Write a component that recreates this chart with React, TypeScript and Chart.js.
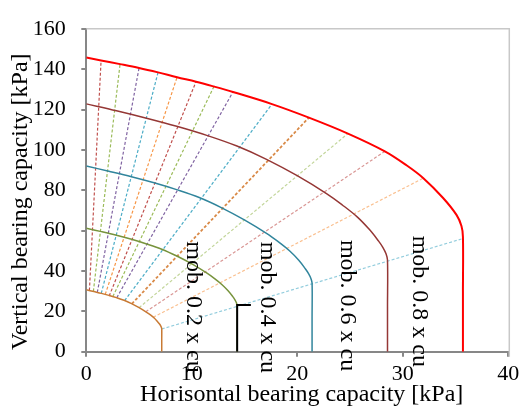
import { useEffect, useRef } from 'react';
import { Chart, registerables } from 'chart.js';

Chart.register(...registerables);

// ---- tick labels ----
const xTickValues = [0, 10, 20, 30, 40];
const yTickValues = [0, 20, 40, 60, 80, 100, 120, 140, 160];

const xTitle = 'Horisontal bearing capacity [kPa]';
const yTitle = 'Vertical bearing capacity [kPa]';

// ---- envelopes (H, V) ----
const fullH = [0, 1.4, 3.2, 5.0, 6.8, 8.6, 10.4, 12.1, 13.9, 17.6, 21.1, 24.8, 28.3, 30.35, 31.95, 33.8, 35.09, 35.56, 35.7, 35.7, 35.7];
const fullV = [145.8, 144.3, 142.5, 140.6, 138.4, 136.0, 133.8, 131.4, 128.7, 122.7, 116.0, 108.1, 99.3, 92.4, 86.0, 76.3, 67.8, 62.3, 56.9, 30, 0];

const mob08H = [0, 2.86, 5.71, 8.57, 11.42, 14.28, 17.13, 19.99, 22.84, 24.27, 25.7, 26.84, 27.69, 28.12, 28.41, 28.55, 28.55, 28.55];
const mob08V = [122.8, 119.4, 115.7, 111.7, 107.2, 101.9, 95.2, 87.2, 78.1, 72.7, 66.7, 60.5, 54.9, 51.6, 48.5, 45.4, 22, 0];

const mob06H = [0, 2.14, 4.28, 6.42, 8.56, 10.7, 12.84, 14.98, 17.12, 18.19, 19.26, 20.12, 20.76, 21.08, 21.29, 21.4, 21.4, 21.4];
const mob06V = [92.0, 89.4, 86.7, 83.7, 80.3, 76.4, 71.3, 65.3, 58.5, 54.5, 50.0, 45.4, 41.1, 38.6, 36.3, 34.0, 17, 0];

const mob04H = [0, 1.43, 2.86, 4.29, 5.72, 7.15, 8.58, 10.01, 11.44, 12.16, 12.87, 13.44, 13.87, 14.09, 14.23, 14.3, 14.3, 14.3];
const mob04V = [61.2, 59.5, 57.7, 55.7, 53.4, 50.8, 47.4, 43.5, 38.9, 36.2, 33.2, 30.2, 27.4, 25.7, 24.2, 22.6, 11, 0];

const mob02H = [0, 0.715, 1.43, 2.145, 2.86, 3.575, 4.29, 5.005, 5.72, 6.08, 6.435, 6.72, 6.94, 7.04, 7.11, 7.15, 7.15, 7.15];
const mob02V = [30.7, 29.8, 28.9, 27.9, 26.8, 25.5, 23.8, 21.8, 19.5, 18.2, 16.7, 15.1, 13.7, 12.9, 12.1, 11.4, 6, 0];

// ---- load paths (from mob 0.2 envelope to full envelope) ----
const rayStartH = [0.295, 0.671, 1.046, 1.421, 1.797, 2.168, 2.518, 2.889, 3.634, 4.316, 5.003, 5.639, 6.341, 7.15];
const rayStartV = [30.35, 29.89, 29.41, 28.93, 28.42, 27.59, 27.34, 26.75, 25.34, 23.72, 21.8, 19.78, 17.07, 11.23];
const rayEndH = [1.4, 3.2, 5.0, 6.8, 8.6, 10.4, 12.1, 13.9, 17.6, 21.1, 24.8, 28.3, 31.95, 35.65];
const rayEndV = [144.3, 142.5, 140.6, 138.4, 136.0, 133.8, 131.4, 128.7, 122.7, 116.0, 108.1, 99.3, 86.0, 56.0];

// ---- marker ----
const markerH = [14.3, 14.3, 15.6];
const markerV = [0, 23.1, 23.1];

// ---- annotations ----
const mobLabels = ['mob. 0.2 x cu', 'mob. 0.4 x cu', 'mob. 0.6 x cu', 'mob. 0.8 x cu'];
const mobLabelAnchorH = [10.1, 17.2, 24.7, 31.6];
const mobLabelAnchorV = [54.7, 54.5, 55.4, 57.5];

// ---- styles ----
const rayColors = ['#C0504D', '#9BBB59', '#8064A2', '#4BACC6', '#F79646', '#C0504D', '#9BBB59', '#8064A2', '#4BACC6', '#D98A48', '#C3D69B', '#D99694', '#FAC090', '#93CDDD'];
const rayWidths = [1.2, 1.2, 1.2, 1.2, 1.2, 1.2, 1.2, 1.2, 1.2, 1.8, 1.2, 1.2, 1.2, 1.2];

const pts = (xs: number[], ys: number[]) => xs.map((x, i) => ({ x, y: ys[i] }));

const FONT = "'Liberation Serif', 'Times New Roman', serif";

export default function App() {
  const ref = useRef<HTMLCanvasElement | null>(null);

  useEffect(() => {
    if (!ref.current) return;

    const solid = (xs: number[], ys: number[], color: string, width: number, tension = 0.35) => ({
      data: pts(xs, ys),
      borderColor: color,
      backgroundColor: color,
      borderWidth: width,
      showLine: true,
      pointRadius: 0,
      tension,
      fill: false,
    });

    const rays = rayStartH.map((_, i) => ({
      data: pts([rayStartH[i], rayEndH[i]], [rayStartV[i], rayEndV[i]]),
      borderColor: rayColors[i],
      backgroundColor: rayColors[i],
      borderWidth: rayWidths[i],
      borderDash: [3, 2],
      showLine: true,
      pointRadius: 0,
      tension: 0,
      fill: false,
    }));

    const decor = {
      id: 'decor',
      beforeDatasetsDraw(chart: any) {
        const { ctx, chartArea } = chart;
        ctx.save();
        ctx.strokeStyle = '#C8C8C8';
        ctx.lineWidth = 1.5;
        ctx.beginPath();
        ctx.moveTo(chartArea.left, chartArea.top);
        ctx.lineTo(chartArea.right + 1, chartArea.top);
        ctx.lineTo(chartArea.right + 1, chartArea.bottom + 5);
        ctx.stroke();
        ctx.restore();
      },
      afterDatasetsDraw(chart: any) {
        const { ctx, scales } = chart;
        ctx.save();
        ctx.fillStyle = '#000';
        ctx.font = `24px ${FONT}`;
        mobLabels.forEach((t, i) => {
          const px = scales.x.getPixelForValue(mobLabelAnchorH[i]);
          const py = scales.y.getPixelForValue(mobLabelAnchorV[i]);
          ctx.save();
          ctx.translate(px, py);
          ctx.rotate(Math.PI / 2);
          ctx.textAlign = 'left';
          ctx.textBaseline = 'middle';
          ctx.fillText(t, 0, 0);
          ctx.restore();
        });
        // axis titles
        ctx.textAlign = 'center';
        ctx.textBaseline = 'middle';
        ctx.fillText(xTitle, 301.7, 395);
        ctx.save();
        ctx.translate(20.5, 201.7);
        ctx.rotate(-Math.PI / 2);
        ctx.fillText(yTitle, 0, 0);
        ctx.restore();
        ctx.restore();
      },
    };

    const chart = new Chart(ref.current, {
      type: 'scatter',
      data: {
        datasets: [
          solid(markerH, markerV, '#000000', 2, 0),
          solid(fullH, fullV, '#FF0000', 2),
          solid(mob08H, mob08V, '#953735', 1.5),
          solid(mob06H, mob06V, '#31859C', 1.5),
          solid(mob04H, mob04V, '#77933C', 1.5),
          solid(mob02H, mob02V, '#C87A34', 1.5),
          ...rays,
        ] as any,
      },
      options: {
        animation: false,
        responsive: false,
        devicePixelRatio: 1,
        layout: { padding: { left: 0, right: 15.7, top: 16, bottom: 0 } },
        plugins: { legend: { display: false }, tooltip: { enabled: false }, title: { display: false } },
        scales: {
          x: {
            type: 'linear',
            min: 0,
            max: 40,
            afterBuildTicks: (s: any) => { s.ticks = xTickValues.map((v) => ({ value: v })); },
            afterFit: (s: any) => { s.height = 59.3; },
            ticks: { color: '#000', font: { family: FONT, size: 22 }, padding: 4, maxRotation: 0 },
            grid: { drawOnChartArea: false, drawTicks: true, tickLength: 5, color: '#878787', lineWidth: 2 },
            border: { display: true, color: '#878787', width: 2 },
          },
          y: {
            type: 'linear',
            min: 0,
            max: 160,
            afterBuildTicks: (s: any) => { s.ticks = yTickValues.map((v) => ({ value: v })); },
            afterFit: (s: any) => { s.width = 86.3; },
            ticks: { color: '#000', font: { family: FONT, size: 22 }, padding: 15.6 },
            grid: { drawOnChartArea: false, drawTicks: true, tickLength: 5, color: '#878787', lineWidth: 2 },
            border: { display: true, color: '#878787', width: 2 },
          },
        },
      } as any,
      plugins: [decor],
    });

    return () => chart.destroy();
  }, []);

  return (
    <div style={{ position: 'fixed', left: 0, top: 0, width: 524, height: 411, background: '#fff' }}>
      <canvas ref={ref} width={524} height={411} style={{ width: 524, height: 411, display: 'block' }} />
    </div>
  );
}
